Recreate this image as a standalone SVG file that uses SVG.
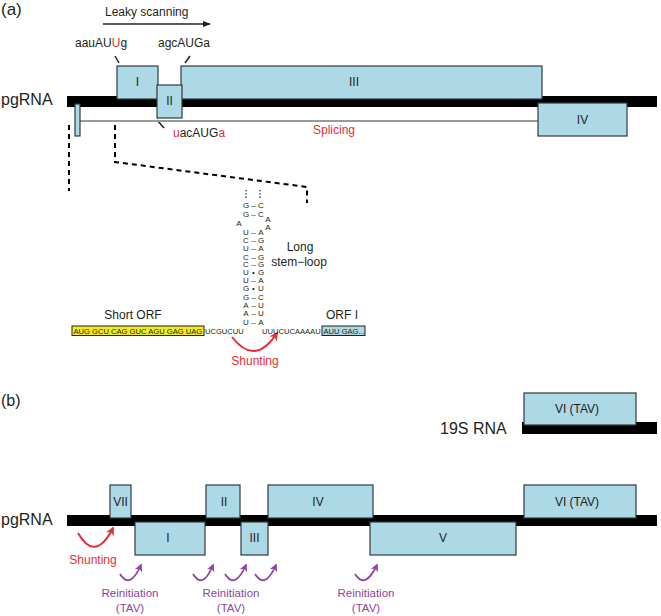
<svg xmlns="http://www.w3.org/2000/svg" width="661" height="616" viewBox="0 0 661 616">
<defs>
<style>
text{font-family:"Liberation Sans",Arial,sans-serif;fill:#231f20}
.lbl{font-size:12px;text-anchor:middle}
.big{font-size:16px}
.box{fill:#add8e6;stroke:#2f3b40;stroke-width:1.2}
.bar{fill:#000}
.red{fill:#e52d36}
.pur{fill:#8e44a3;font-size:11.5px;text-anchor:middle}
.stem{font-size:8px;text-anchor:middle}
.seq{font-size:7.6px}
.dash{stroke:#000;stroke-width:2;stroke-dasharray:5,4;fill:none}
.rarrow{fill:none;stroke:#e52d36;stroke-width:2;marker-end:url(#mr)}
.parrow{fill:none;stroke:#8e44a3;stroke-width:1.8;marker-end:url(#mp)}
.lead{stroke:#231f20;stroke-width:1.5}
</style>
<marker id="mk" viewBox="0 0 10 10" refX="9" refY="5" markerWidth="8" markerHeight="8" markerUnits="userSpaceOnUse" orient="auto"><path d="M0,1 L10,5 L0,9 Z" fill="#231f20"/></marker>
<marker id="mr" viewBox="0 0 10 10" refX="8" refY="5" markerWidth="9" markerHeight="9" markerUnits="userSpaceOnUse" orient="auto"><path d="M0,0 L10,5 L0,10 L3,5 Z" fill="#e52d36"/></marker>
<marker id="mp" viewBox="0 0 10 10" refX="8" refY="5" markerWidth="8" markerHeight="8" markerUnits="userSpaceOnUse" orient="auto"><path d="M0,0 L10,5 L0,10 L3,5 Z" fill="#8e44a3"/></marker>
</defs>

<!-- Panel (a) -->
<text x="1" y="15" style="font-size:17px">(a)</text>
<text x="105" y="16" style="font-size:12px">Leaky scanning</text>
<line x1="103" y1="24" x2="210" y2="24" stroke="#231f20" stroke-width="1.3" marker-end="url(#mk)"/>

<text x="75" y="47" style="font-size:12px">aauAU<tspan class="red">U</tspan>g</text>
<text x="158" y="47" style="font-size:12px">agcAUGa</text>
<text x="173" y="137" style="font-size:12px"><tspan class="red">u</tspan>acAUG<tspan class="red">a</tspan></text>
<text x="313" y="134" class="red" style="font-size:12px">Splicing</text>

<text x="1" y="105" class="big">pgRNA</text>

<g id="connectors-a">
<line class="lead" x1="115" y1="56" x2="119" y2="63"/>
<line class="lead" x1="190" y1="56" x2="185" y2="63"/>
<line class="lead" x1="157" y1="120" x2="164" y2="128"/>
<line x1="80" y1="121" x2="538" y2="121" stroke="#9a9a9a" stroke-width="1.8"/>
<path class="dash" d="M69,125 V191"/>
<path class="dash" d="M115,125 V162 L307,187 V203"/>
<line x1="246" y1="190" x2="246" y2="199" stroke="#231f20" stroke-width="1.3" stroke-dasharray="1.3,2"/>
<line x1="260" y1="190" x2="260" y2="199" stroke="#231f20" stroke-width="1.3" stroke-dasharray="1.3,2"/>
<path class="rarrow" d="M232,337 Q255,367 277,333"/>
</g>

<rect class="bar" x="67" y="96" width="590" height="11"/>

<g id="a-box-small"><rect class="box" x="75" y="104" width="5" height="32"/></g>
<g id="a-box-I"><rect class="box" x="117" y="66" width="41" height="33"/><text class="lbl" x="137.5" y="86">I</text></g>
<g id="a-box-III"><rect class="box" x="181" y="66" width="361" height="33"/><text class="lbl" x="354" y="86">III</text></g>
<g id="a-box-II"><rect class="box" x="157" y="85" width="25" height="33"/><text class="lbl" x="169.5" y="105">II</text></g>
<g id="a-box-IV"><rect class="box" x="538" y="103" width="89" height="33"/><text class="lbl" x="582.5" y="124">IV</text></g>

<!-- stem loop -->
<g id="stem-loop" class="stem">
<text x="246" y="208">G</text><text x="253.5" y="208">–</text><text x="261" y="208">C</text>
<text x="246" y="216.7">G</text><text x="253.5" y="216.7">–</text><text x="261" y="216.7">C</text>
<text x="268" y="222">A</text>
<text x="239" y="226">A</text>
<text x="268" y="230">A</text>
<text x="246" y="234.7">U</text><text x="253.5" y="234.7">–</text><text x="261" y="234.7">A</text>
<text x="246" y="243">C</text><text x="253.5" y="243">–</text><text x="261" y="243">G</text>
<text x="246" y="251.3">U</text><text x="253.5" y="251.3">–</text><text x="261" y="251.3">A</text>
<text x="246" y="259.7">C</text><text x="253.5" y="259.7">–</text><text x="261" y="259.7">G</text>
<text x="246" y="267.3">C</text><text x="253.5" y="267.3">–</text><text x="261" y="267.3">G</text>
<text x="246" y="275">U</text><text x="253.5" y="275">•</text><text x="261" y="275">G</text>
<text x="246" y="283">U</text><text x="253.5" y="283">–</text><text x="261" y="283">A</text>
<text x="246" y="291.3">G</text><text x="253.5" y="291.3">•</text><text x="261" y="291.3">U</text>
<text x="246" y="299.7">G</text><text x="253.5" y="299.7">–</text><text x="261" y="299.7">C</text>
<text x="246" y="308">A</text><text x="253.5" y="308">–</text><text x="261" y="308">U</text>
<text x="246" y="316.3">A</text><text x="253.5" y="316.3">–</text><text x="261" y="316.3">U</text>
<text x="246" y="324.7">U</text><text x="253.5" y="324.7">–</text><text x="261" y="324.7">A</text>
</g>
<text class="lbl" x="300" y="251">Long</text>
<text class="lbl" x="299" y="266">stem−loop</text>
<text class="lbl" x="133" y="319">Short ORF</text>
<text class="lbl" x="342" y="319">ORF I</text>

<g id="short-orf"><rect x="72" y="326" width="132" height="9.5" fill="#f2ec1c" stroke="#231f20" stroke-width="1"/>
<text class="seq" x="73.5" y="333.7">AUG GCU CAG GUC AGU GAG UAG</text></g>
<text class="seq" x="205" y="333.7">UCGUCUU</text>
<text class="seq" x="262" y="333.7">UUUCUCAAAAU</text>
<g id="orf-I"><rect x="322" y="326" width="43" height="9.5" fill="#add8e6" stroke="#231f20" stroke-width="1"/>
<text class="seq" x="323.5" y="333.7">AUU GAG...</text></g>
<text class="red" x="255" y="365" text-anchor="middle" style="font-size:12px">Shunting</text>

<!-- Panel (b) -->
<text x="1" y="406" class="big">(b)</text>
<text x="440" y="434" class="big">19S RNA</text>
<rect class="bar" x="522" y="422" width="135" height="12"/>
<g id="b-19s-VI"><rect class="box" x="524" y="393" width="112" height="32"/><text class="lbl" x="577" y="413">VI (TAV)</text></g>

<text x="1" y="525" class="big">pgRNA</text>
<rect class="bar" x="67" y="515" width="590" height="11"/>

<g id="b-box-VII"><rect class="box" x="110" y="485" width="21" height="33"/><text class="lbl" x="120.5" y="506">VII</text></g>
<g id="b-box-I"><rect class="box" x="135" y="522" width="70" height="33"/><text class="lbl" x="168" y="542">I</text></g>
<g id="b-box-II"><rect class="box" x="206" y="485" width="34" height="33"/><text class="lbl" x="224" y="506">II</text></g>
<g id="b-box-III"><rect class="box" x="241" y="522" width="27" height="33"/><text class="lbl" x="254.5" y="542">III</text></g>
<g id="b-box-IV"><rect class="box" x="268" y="485" width="105" height="33"/><text class="lbl" x="318" y="506">IV</text></g>
<g id="b-box-V"><rect class="box" x="370" y="522" width="146" height="33"/><text class="lbl" x="443" y="542">V</text></g>
<g id="b-box-VI"><rect class="box" x="524" y="485" width="112" height="33"/><text class="lbl" x="577" y="506">VI (TAV)</text></g>

<g id="connectors-b">
<path class="rarrow" d="M78,533 Q95,563 113,528"/>
<path class="parrow" d="M120,574 Q130,590 141,565"/>
<path class="parrow" d="M193,574 Q203,590 213,565"/>
<path class="parrow" d="M225,574 Q235,590 246,565"/>
<path class="parrow" d="M255,574 Q265,590 276,565"/>
<path class="parrow" d="M355,574 Q365,590 377,565"/>
</g>
<text class="red" x="93" y="564" text-anchor="middle" style="font-size:12px">Shunting</text>
<text class="pur" x="130" y="597">Reinitiation</text>
<text class="pur" x="130" y="612">(TAV)</text>
<text class="pur" x="231" y="597">Reinitiation</text>
<text class="pur" x="231" y="612">(TAV)</text>
<text class="pur" x="366" y="597">Reinitiation</text>
<text class="pur" x="366" y="612">(TAV)</text>
</svg>
